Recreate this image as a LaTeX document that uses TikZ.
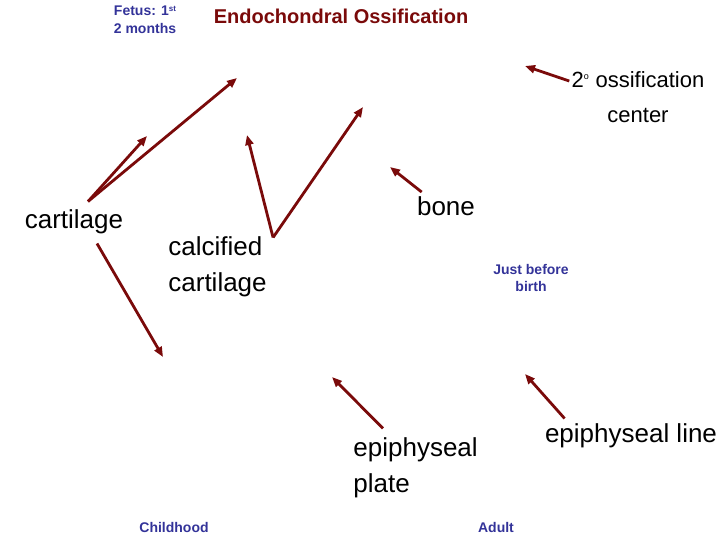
\documentclass[tikz,border=0pt]{standalone}
\usepackage{fontspec}
\setmainfont{Liberation Sans}
\usetikzlibrary{arrows.meta}
\definecolor{maroon}{HTML}{7A0A0A}
\definecolor{stageblue}{HTML}{333399}

\begin{document}
\begin{tikzpicture}[x=1pt,y=-1pt,->,>={Triangle[length=10pt,width=8pt]},
  line width=2.8pt,draw=maroon,inner sep=0pt]
  \tikzstyle{label}=[font=\fontsize{26}{36}\selectfont,text=black]
  \tikzstyle{stage}=[font=\fontsize{14}{18}\selectfont\bfseries,text=stageblue,align=center]
  \useasboundingbox (0,0) rectangle (720,540);

  \node[stage] (fetus) at (145,20) {Fetus: 1\raisebox{4pt}{\fontsize{8}{8}\selectfont st}\\2 months};
  \node[font=\fontsize{20}{24}\selectfont\bfseries,text=maroon] (title) at (341,16) {Endochondral Ossification};
  \node[label,align=center,font=\fontsize{22}{35}\selectfont] (ossif) at (638,97) {2\textsuperscript{\small o} ossification\\center};
  \node[label]         (cart)   at (74,222)  {cartilage};
  \node[label,align=left,anchor=west] (calc) at (167,267) {calcified\\cartilage};
  \node[label]         (bone)   at (446,206) {bone};
  \node[stage,font=\fontsize{14}{17}\selectfont\bfseries] (before) at (531,278) {Just before\\birth};
  \node[label,align=left,anchor=west] (plate) at (352,468) {epiphyseal\\plate};
  \node[label]         (eline)  at (631,436) {epiphyseal line};
  \node[stage]         (child)  at (174,527) {Childhood};
  \node[stage]         (adult)  at (496,527) {Adult};

  \coordinate (c1) at (147,136);
  \coordinate (c2) at (237,78);
  \coordinate (c3) at (163,357);
  \coordinate (v1) at (247,135);
  \coordinate (v2) at (363,107);
  \coordinate (b1) at (390,167);
  \coordinate (s1) at (525,66);
  \coordinate (p1) at (332,377);
  \coordinate (l1) at (525,374);

  % arrows
  \draw ([xshift=14pt,yshift=7pt]cart.north) -- (c1);
  \draw ([xshift=14pt,yshift=7pt]cart.north) -- (c2);
  \draw ([xshift=23pt,yshift=-8pt]cart.south) -- (c3);
  \draw ([xshift=5pt,yshift=-2pt]calc.north east) -- (v1);
  \draw ([xshift=5pt,yshift=-2pt]calc.north east) -- (v2);
  \draw ([xshift=6pt,yshift=3pt]bone.north west) -- (b1);
  \draw ([xshift=-1pt,yshift=-11pt]ossif.north west) -- (s1);
  \draw ([xshift=31pt,yshift=8pt]plate.north west) -- (p1);
  \draw ([xshift=21pt,yshift=4pt]eline.north west) -- (l1);
\end{tikzpicture}
\end{document}
